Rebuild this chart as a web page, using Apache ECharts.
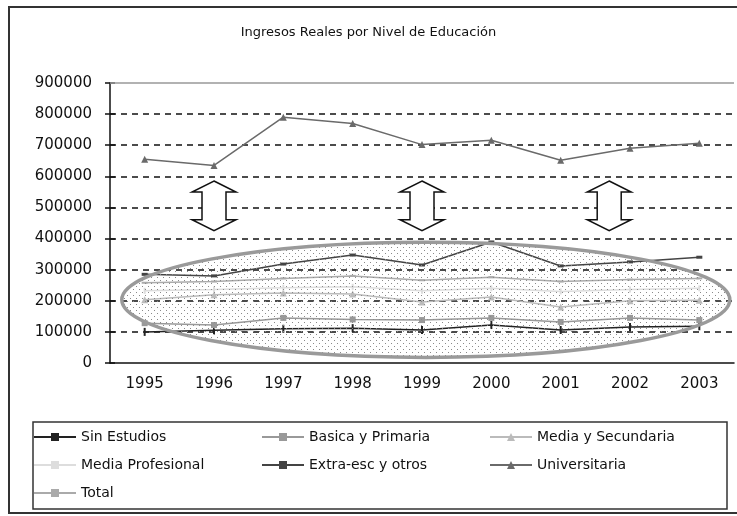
<!DOCTYPE html>
<html>
<head>
<meta charset="utf-8">
<script src="https://cdn.jsdelivr.net/npm/echarts@6/dist/echarts.min.js"></script>
<style>
  html, body { margin: 0; padding: 0; background: #fff; }
  #chart { width: 737px; height: 516px; }
</style>
</head>
<body>
<div id="chart"></div>
<script>
var years = ['1995', '1996', '1997', '1998', '1999', '2000', '2001', '2002', '2003'];
var yTicks = [0, 100000, 200000, 300000, 400000, 500000, 600000, 700000, 800000, 900000];

var sinEstudios = [100000, 105000, 110000, 112000, 106000, 122000, 106000, 116000, 118000];
var basicaPrimaria = [128000, 122000, 145000, 140000, 138000, 145000, 132000, 145000, 138000];
var mediaSecundaria = [203000, 219000, 225000, 222000, 196000, 212000, 180000, 200000, 202000];
var mediaProfesional = [232000, 236000, 242000, 245000, 232000, 240000, 230000, 236000, 240000];
var extraEsc = [285000, 280000, 318000, 347000, 315000, 389000, 312000, 325000, 340000];
var universitaria = [655000, 635000, 790000, 770000, 702000, 716000, 652000, 690000, 706000];
var total = [258000, 262000, 272000, 280000, 266000, 276000, 262000, 268000, 272000];

// annotation positions, in data units (category index, value)
var arrowSpots = [1, 4, 6.7];
var arrowTop = 585000, arrowBottom = 425000;
var ovalX = [-0.33, 8.44], ovalY = [18000, 388000];

var chart = echarts.init(document.getElementById('chart'));
var font = 'DejaVu Sans';

function makeLine(name, data, color, symbol, size) {
  return {
    name: name,
    type: 'line',
    data: data,
    symbol: symbol,
    symbolSize: size,
    lineStyle: { color: color, width: 1.5 },
    itemStyle: { color: color },
    z: 3
  };
}

var series = [
  makeLine('Sin Estudios', sinEstudios, '#222', 'rect', [2, 8]),
  makeLine('Basica y Primaria', basicaPrimaria, '#999', 'rect', 6),
  makeLine('Media y Secundaria', mediaSecundaria, '#bbb', 'triangle', 7),
  makeLine('Media Profesional', mediaProfesional, '#ddd', 'rect', [2, 6]),
  makeLine('Extra-esc y otros', extraEsc, '#444', 'rect', [6, 3]),
  makeLine('Universitaria', universitaria, '#6a6a6a', 'triangle', 7),
  makeLine('Total', total, '#aaa', 'rect', [6, 2])
];
// gray top frame line of the plot
series[0].markLine = {
  silent: true,
  symbol: 'none',
  label: { show: false },
  lineStyle: { color: '#999', type: 'solid', width: 1.5 },
  data: [{ yAxis: yTicks[yTicks.length - 1] }]
};

chart.setOption({
  animation: false,
  backgroundColor: '#fff',
  title: {
    text: 'Ingresos Reales por Nivel de Educación',
    left: 'center',
    top: 21,
    textStyle: { fontFamily: font, fontSize: 13, fontWeight: 'normal', color: '#111' }
  },
  grid: { left: 110, right: 3, top: 83, bottom: 153 },
  xAxis: {
    type: 'category',
    data: years,
    boundaryGap: true,
    axisLine: { lineStyle: { color: '#111', width: 1.5 } },
    axisTick: { length: 6, lineStyle: { color: '#111', width: 1.5 } },
    axisLabel: { margin: 14, fontFamily: font, fontSize: 15, color: '#111' },
    splitLine: { show: false }
  },
  yAxis: [{
    type: 'value',
    min: 0,
    max: 900000,
    interval: 100000,
    axisLine: { show: true, lineStyle: { color: '#111', width: 1.5 } },
    axisTick: { show: true, length: 5, lineStyle: { color: '#111', width: 1.5 } },
    axisLabel: {
      margin: 18, fontFamily: font, fontSize: 15, color: '#111',
      formatter: function (v) { return String(v); }
    },
    splitLine: {
      show: true,
      showMinLine: false,
      showMaxLine: false,
      lineStyle: { color: '#111', type: [6, 5], width: 1.5 }
    }
  }, {
    type: 'value',
    min: 0,
    max: 900000,
    interval: 100000,
    position: 'left',
    axisLine: { show: false },
    axisTick: { show: true, inside: true, length: 5, lineStyle: { color: '#111', width: 1.5 } },
    axisLabel: { show: false },
    splitLine: { show: false }
  }],
  legend: {
    left: 33,
    top: 423,
    width: 720,
    padding: 0,
    itemGap: 0,
    itemWidth: 42,
    itemHeight: 10,
    textStyle: { fontFamily: font, fontSize: 14, color: '#111', width: 180, height: 28, lineHeight: 28 },
    data: series.map(function (s) { return s.name; })
  },
  series: series
});

// dotted fill for the oval
var dots = document.createElement('canvas');
dots.width = 6; dots.height = 6;
var dctx = dots.getContext('2d');
dctx.fillStyle = '#8a8a8a';
dctx.fillRect(1, 1, 1, 1);
dctx.fillRect(4, 4, 1, 1);

function px(x, y) {
  var i0 = Math.floor(x), f = x - i0;
  var a = chart.convertToPixel({ gridIndex: 0 }, [i0, y]);
  var b = chart.convertToPixel({ gridIndex: 0 }, [i0 + 1, y]);
  return [a[0] + (b[0] - a[0]) * f, a[1]];
}

var graphics = [];
arrowSpots.forEach(function (ax) {
  var t = px(ax, arrowTop), b = px(ax, arrowBottom);
  var cx = t[0], hw = 22, sw = 12, hh = 11;
  graphics.push({
    type: 'polygon',
    z: 10,
    shape: {
      points: [
        [cx, t[1]], [cx + hw, t[1] + hh], [cx + sw, t[1] + hh], [cx + sw, b[1] - hh],
        [cx + hw, b[1] - hh], [cx, b[1]], [cx - hw, b[1] - hh], [cx - sw, b[1] - hh],
        [cx - sw, t[1] + hh], [cx - hw, t[1] + hh]
      ]
    },
    style: { fill: '#fff', stroke: '#111', lineWidth: 1.5 }
  });
});

var p1 = px(ovalX[0], ovalY[1]);
var p2 = px(ovalX[1], ovalY[0]);
graphics.push({
  type: 'ellipse',
  z: 10,
  shape: { cx: (p1[0] + p2[0]) / 2, cy: (p1[1] + p2[1]) / 2, rx: (p2[0] - p1[0]) / 2, ry: (p2[1] - p1[1]) / 2 },
  style: { fill: { image: dots, repeat: 'repeat' }, stroke: '#9a9a9a', lineWidth: 3.5 }
});

// legend frame and outer chart frame
graphics.push({
  type: 'rect', z: 0,
  shape: { x: 33, y: 422, width: 694, height: 87 },
  style: { fill: 'none', stroke: '#333', lineWidth: 1.5 }
});
graphics.push({
  type: 'rect', z: 0,
  shape: { x: 9, y: 7, width: 760, height: 506 },
  style: { fill: 'none', stroke: '#333', lineWidth: 2 }
});

chart.setOption({ graphic: graphics });
</script>
</body>
</html>
